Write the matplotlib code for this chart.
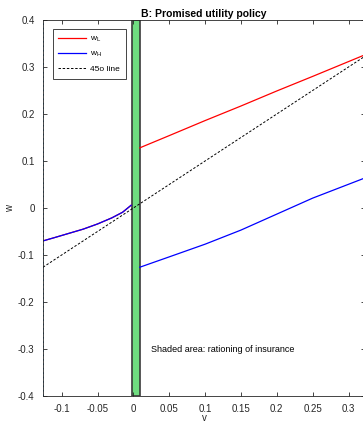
import matplotlib
matplotlib.use('Agg')
import matplotlib.pyplot as plt
import numpy as np

plt.rcParams['font.family'] = ['Liberation Sans', 'DejaVu Sans']
plt.rcParams['mathtext.fontset'] = 'custom'
plt.rcParams['mathtext.rm'] = 'Liberation Sans'
plt.rcParams['mathtext.it'] = 'Liberation Sans'

# pooling region (both types get the same w)
v_pool = [-0.126, -0.11, -0.09, -0.07, -0.05, -0.03, -0.015, -0.003]
w_pool = [-0.070, -0.063, -0.054, -0.045, -0.034, -0.021, -0.009, 0.006]

# separating region
v_sep = [0.009, 0.05, 0.10, 0.15, 0.20, 0.25, 0.323]
wL_sep = [0.128, 0.154, 0.186, 0.217, 0.249, 0.280, 0.326]
wH_sep = [-0.126, -0.104, -0.077, -0.047, -0.013, 0.021, 0.064]

v_lim = [-0.126, 0.323]
shade = [-0.002, 0.009]

xticks = [-0.1, -0.05, 0, 0.05, 0.1, 0.15, 0.2, 0.25, 0.3]
xticklabels = ['-0.1', '-0.05', '0', '0.05', '0.1', '0.15', '0.2', '0.25', '0.3']
yticks = [-0.4, -0.3, -0.2, -0.1, 0, 0.1, 0.2, 0.3, 0.4]
yticklabels = ['-0.4', '-0.3', '-0.2', '-0.1', '0', '0.1', '0.2', '0.3', '0.4']

fig = plt.figure(figsize=(3.63, 4.24), dpi=100)
ax = fig.add_axes([43 / 363, 28 / 424, 322 / 363, 376 / 424])

ax.axvspan(shade[0], shade[1], facecolor='#6fdc80', edgecolor='#3a3a3a', lw=1.2, zorder=1)
ax.axvline(v_lim[0], color='#0072BD', ls=':', lw=1.2, zorder=2)

ax.plot(v_pool, w_pool, color='red', lw=0.9, label='w$_L$')
ax.plot(v_sep, wL_sep, color='red', lw=0.9)
ax.plot(v_pool, w_pool, color='blue', lw=0.9, label='w$_H$')
ax.plot(v_sep, wH_sep, color='blue', lw=0.9)
ax.plot(v_lim, v_lim, color='black', ls='--', lw=0.7, dashes=(2.5, 1.8), label='45o line')

ax.text(0.025, -0.30, 'Shaded area: rationing of insurance', fontsize=6.5, va='center', color='black')

ax.set_xlim(v_lim)
ax.set_ylim(-0.4, 0.4)
ax.set_xticks(xticks)
ax.set_xticklabels(xticklabels)
ax.set_yticks(yticks)
ax.set_yticklabels(yticklabels)
ax.tick_params(direction='in', length=3, width=0.6, labelsize=7, colors='#262626',
               top=True, right=True, pad=6)
for s in ax.spines.values():
    s.set_color('#262626')
    s.set_linewidth(0.6)

ax.set_title('B: Promised utility policy', fontsize=7.5, fontweight='bold', pad=2)
ax.set_xlabel('v', fontsize=7, color='#262626', labelpad=-1)
ax.set_ylabel('w', fontsize=7, color='#262626', labelpad=2)

leg = ax.legend(loc='upper left', fontsize=6, handlelength=3.3, handletextpad=0.5,
                framealpha=1, fancybox=False, edgecolor='#262626', borderpad=0.7,
                labelspacing=0.7, borderaxespad=0, bbox_to_anchor=(0.03, 0.975))
leg.get_frame().set_linewidth(0.6)

fig.savefig('out.png', dpi=100)
